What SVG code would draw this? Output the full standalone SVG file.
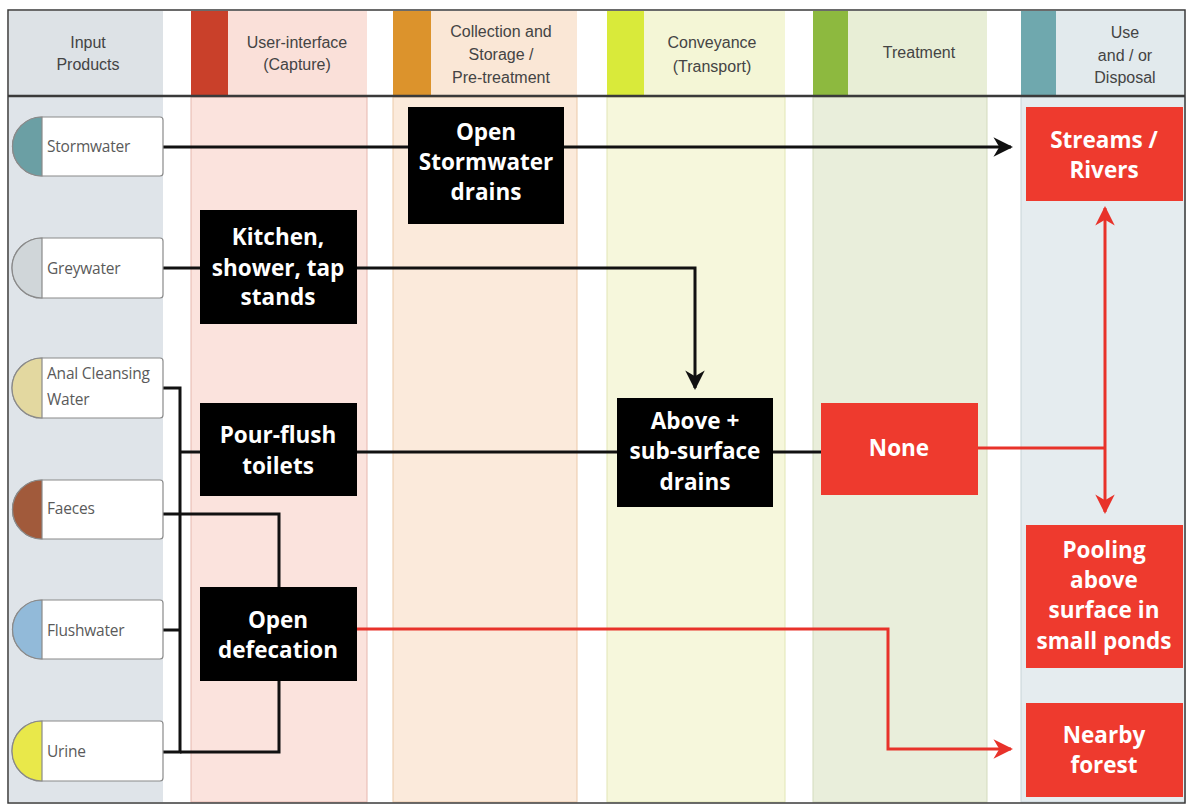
<svg xmlns="http://www.w3.org/2000/svg" width="1189" height="806" viewBox="0 0 1189 806">
  <defs>
    <marker id="arrowBlack" viewBox="0 0 10 10" refX="9" refY="5" markerWidth="6.5" markerHeight="6.5" markerUnits="strokeWidth" orient="auto">
      <path d="M0,0 L10,5 L0,10 L3,5 Z" fill="#111"/>
    </marker>
    <marker id="arrowRed" viewBox="0 0 10 10" refX="9" refY="5" markerWidth="6.5" markerHeight="6.5" markerUnits="strokeWidth" orient="auto">
      <path d="M0,0 L10,5 L0,10 L3,5 Z" fill="#e8322a"/>
    </marker>
    <style>
      .head { font-family: "Liberation Sans", Arial, sans-serif; font-size: 16px; fill: #444; text-anchor: middle; }
      .inp { font-family: "Open Sans", "Liberation Sans", sans-serif; font-size: 15.5px; fill: #5a5a5a; letter-spacing: -0.2px; }
      .box { fill: #000; }
      .rbox { fill: #ee3a2e; }
      .lbl { font-family: "Open Sans", "Liberation Sans", sans-serif; font-weight: bold; font-size: 22.5px; fill: #fff; text-anchor: middle; }
      .pill { fill: #fff; stroke: #8a8a8a; stroke-width: 1.2; }
      .cap { stroke: #8a8a8a; stroke-width: 1.2; }
      .blk { fill: none; stroke: #111; stroke-width: 3; }
      .red { fill: none; stroke: #e8322a; stroke-width: 3; }
    </style>
  </defs>

  <rect x="0" y="0" width="1189" height="806" fill="#fff"/>

  <!-- column bodies -->
  <g id="columns">
    <rect x="9" y="97" width="154" height="705" fill="#dfe4e9"/>
    <rect x="191" y="97" width="176" height="705" fill="#fbe3dd" stroke="#e6b7ae" stroke-width="1"/>
    <rect x="393" y="97" width="184" height="705" fill="#fbeadb" stroke="#ebc9a8" stroke-width="1"/>
    <rect x="607" y="97" width="178" height="705" fill="#f6f7dc" stroke="#e2e6b6" stroke-width="1"/>
    <rect x="813" y="97" width="174" height="705" fill="#e9eedb" stroke="#d3dbbd" stroke-width="1"/>
    <rect x="1021" y="97" width="164" height="705" fill="#e5ecef" stroke="#c7d3d8" stroke-width="1"/>
  </g>

  <!-- header band -->
  <g id="header">
    <rect x="9" y="11" width="154" height="84" fill="#dde2e6"/>
    <rect x="191" y="11" width="176" height="84" fill="#fae0d9"/>
    <rect x="191" y="11" width="37" height="84" fill="#c9402a"/>
    <rect x="393" y="11" width="184" height="84" fill="#fae7d6"/>
    <rect x="393" y="11" width="38" height="84" fill="#dc932c"/>
    <rect x="607" y="11" width="178" height="84" fill="#f4f6d6"/>
    <rect x="607" y="11" width="37" height="84" fill="#d9ea3a"/>
    <rect x="813" y="11" width="174" height="84" fill="#e8eed6"/>
    <rect x="813" y="11" width="35" height="84" fill="#8db93f"/>
    <rect x="1021" y="11" width="164" height="84" fill="#e2eaed"/>
    <rect x="1021" y="11" width="35" height="84" fill="#6fa8ae"/>

    <text class="head" x="88" y="48">Input</text>
    <text class="head" x="88" y="70">Products</text>
    <text class="head" x="297" y="48">User-interface</text>
    <text class="head" x="297" y="70">(Capture)</text>
    <text class="head" x="501" y="37">Collection and</text>
    <text class="head" x="501" y="60">Storage /</text>
    <text class="head" x="501" y="83">Pre-treatment</text>
    <text class="head" x="712" y="48">Conveyance</text>
    <text class="head" x="712" y="72">(Transport)</text>
    <text class="head" x="919" y="58">Treatment</text>
    <text class="head" x="1125" y="38">Use</text>
    <text class="head" x="1125" y="61">and / or</text>
    <text class="head" x="1125" y="83">Disposal</text>
  </g>

  <!-- frame -->
  <g id="frame" fill="none" stroke="#3a3a3a">
    <rect x="8" y="10" width="1177" height="793" stroke-width="1.5"/>
    <line x1="8" y1="96" x2="1185" y2="96" stroke-width="2.5"/>
  </g>

  <!-- connectors -->
  <g id="connectors">
    <!-- stormwater -->
    <line class="blk" x1="163" y1="147" x2="408" y2="147"/>
    <line class="blk" x1="564" y1="147" x2="1011" y2="147" marker-end="url(#arrowBlack)"/>
    <!-- greywater -->
    <line class="blk" x1="163" y1="268" x2="200" y2="268"/>
    <polyline class="blk" points="357,268 695,268 695,388" marker-end="url(#arrowBlack)"/>
    <!-- bus into pour-flush toilets -->
    <polyline class="blk" points="163,388 180,388 180,752 163,752"/>
    <line class="blk" x1="180" y1="452" x2="200" y2="452"/>
    <line class="blk" x1="163" y1="630" x2="180" y2="630"/>
    <!-- faeces and urine into open defecation -->
    <polyline class="blk" points="163,514 279,514 279,587"/>
    <polyline class="blk" points="180,752 279,752 279,681"/>
    <!-- pour-flush to drains to none -->
    <line class="blk" x1="357" y1="452" x2="617" y2="452"/>
    <line class="blk" x1="773" y1="452" x2="821" y2="452"/>
    <!-- none to disposal -->
    <line class="red" x1="978" y1="448" x2="1105" y2="448"/>
    <line class="red" x1="1105" y1="448" x2="1105" y2="208" marker-end="url(#arrowRed)"/>
    <line class="red" x1="1105" y1="448" x2="1105" y2="512" marker-end="url(#arrowRed)"/>
    <!-- open defecation to forest -->
    <polyline class="red" points="357,629 888,629 888,749 1011,749" marker-end="url(#arrowRed)"/>
  </g>

  <!-- input products -->
  <g id="stormwater">
    <path class="pill" d="M42,117 H160 Q163,117 163,120 V173 Q163,176 160,176 H42 A29.5,29.5 0 0 1 42,117 Z"/>
    <path class="cap" d="M42,117 V176 A29.5,29.5 0 0 1 42,117 Z" fill="#6b9fa4"/>
    <text class="inp" x="47" y="152">Stormwater</text>
  </g>
  <g id="greywater">
    <path class="pill" d="M42,238 H160 Q163,238 163,241 V295 Q163,298 160,298 H42 A30,30 0 0 1 42,238 Z"/>
    <path class="cap" d="M42,238 V298 A30,30 0 0 1 42,238 Z" fill="#d0d6d9"/>
    <text class="inp" x="47" y="274">Greywater</text>
  </g>
  <g id="anal-cleansing-water">
    <path class="pill" d="M42,358 H160 Q163,358 163,361 V415 Q163,418 160,418 H42 A30,30 0 0 1 42,358 Z"/>
    <path class="cap" d="M42,358 V418 A30,30 0 0 1 42,358 Z" fill="#e3d8a0"/>
    <text class="inp" x="47" y="379">Anal Cleansing</text>
    <text class="inp" x="47" y="405">Water</text>
  </g>
  <g id="faeces">
    <path class="pill" d="M42,480 H160 Q163,480 163,483 V536 Q163,539 160,539 H42 A29.5,29.5 0 0 1 42,480 Z"/>
    <path class="cap" d="M42,480 V539 A29.5,29.5 0 0 1 42,480 Z" fill="#a15a3b"/>
    <text class="inp" x="47" y="514">Faeces</text>
  </g>
  <g id="flushwater">
    <path class="pill" d="M42,600 H160 Q163,600 163,603 V656 Q163,659 160,659 H42 A29.5,29.5 0 0 1 42,600 Z"/>
    <path class="cap" d="M42,600 V659 A29.5,29.5 0 0 1 42,600 Z" fill="#92bad9"/>
    <text class="inp" x="47" y="636">Flushwater</text>
  </g>
  <g id="urine">
    <path class="pill" d="M42,721 H160 Q163,721 163,724 V778 Q163,781 160,781 H42 A30,30 0 0 1 42,721 Z"/>
    <path class="cap" d="M42,721 V781 A30,30 0 0 1 42,721 Z" fill="#e9e84a"/>
    <text class="inp" x="47" y="757">Urine</text>
  </g>

  <!-- technologies -->
  <g id="open-stormwater-drains">
    <rect class="box" x="408" y="107" width="156" height="117"/>
    <text class="lbl" x="486" y="140">Open</text>
    <text class="lbl" x="486" y="170">Stormwater</text>
    <text class="lbl" x="486" y="200">drains</text>
  </g>
  <g id="kitchen-shower-tap-stands">
    <rect class="box" x="200" y="210" width="157" height="114"/>
    <text class="lbl" x="278" y="245">Kitchen,</text>
    <text class="lbl" x="278" y="276">shower, tap</text>
    <text class="lbl" x="278" y="305">stands</text>
  </g>
  <g id="pour-flush-toilets">
    <rect class="box" x="200" y="403" width="157" height="93"/>
    <text class="lbl" x="278" y="443">Pour-flush</text>
    <text class="lbl" x="278" y="474">toilets</text>
  </g>
  <g id="open-defecation">
    <rect class="box" x="200" y="587" width="157" height="94"/>
    <text class="lbl" x="278" y="628">Open</text>
    <text class="lbl" x="278" y="658">defecation</text>
  </g>
  <g id="above-sub-surface-drains">
    <rect class="box" x="617" y="398" width="156" height="109"/>
    <text class="lbl" x="695" y="429">Above +</text>
    <text class="lbl" x="695" y="459">sub-surface</text>
    <text class="lbl" x="695" y="490">drains</text>
  </g>
  <g id="none">
    <rect class="rbox" x="821" y="403" width="157" height="92"/>
    <text class="lbl" x="899" y="456">None</text>
  </g>
  <g id="streams-rivers">
    <rect class="rbox" x="1026" y="107" width="157" height="94"/>
    <text class="lbl" x="1104" y="148">Streams /</text>
    <text class="lbl" x="1104" y="178">Rivers</text>
  </g>
  <g id="pooling">
    <rect class="rbox" x="1026" y="525" width="157" height="143"/>
    <text class="lbl" x="1104" y="558">Pooling</text>
    <text class="lbl" x="1104" y="588">above</text>
    <text class="lbl" x="1104" y="618">surface in</text>
    <text class="lbl" x="1104" y="649">small ponds</text>
  </g>
  <g id="nearby-forest">
    <rect class="rbox" x="1026" y="703" width="157" height="94"/>
    <text class="lbl" x="1104" y="743">Nearby</text>
    <text class="lbl" x="1104" y="773">forest</text>
  </g>
</svg>
